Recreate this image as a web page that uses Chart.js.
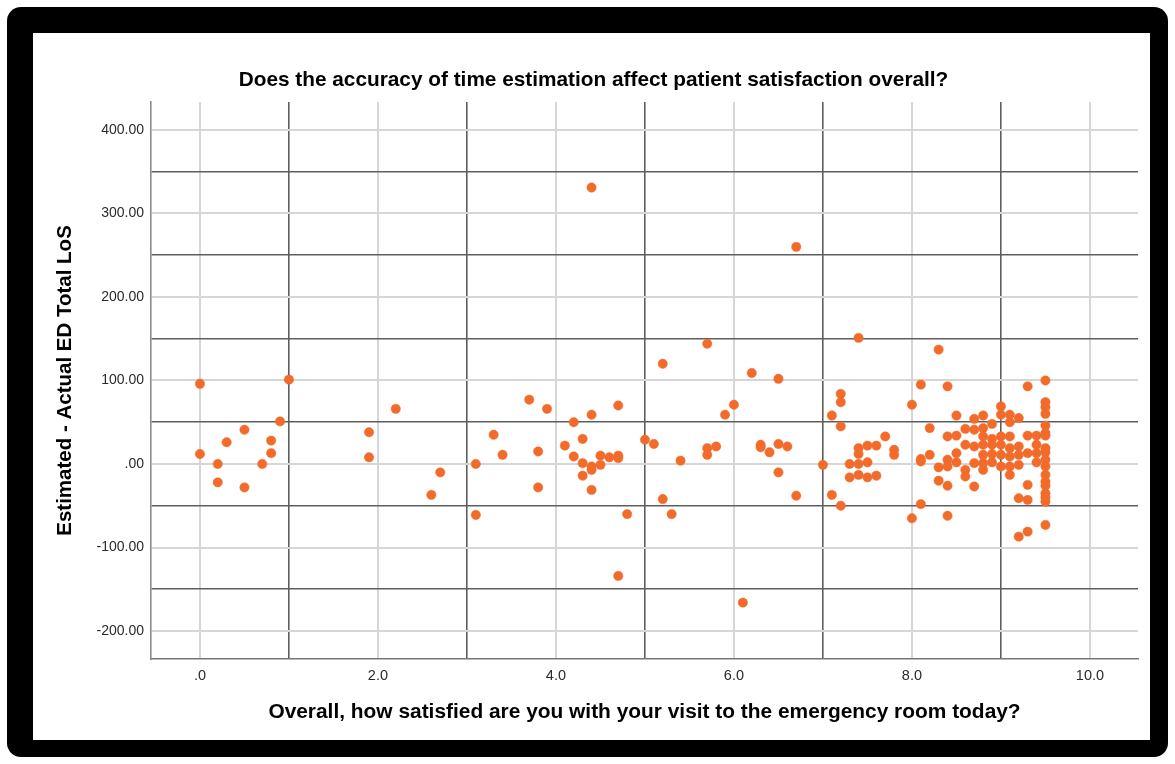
<!DOCTYPE html>
<html>
<head>
<meta charset="utf-8">
<script src="https://cdn.jsdelivr.net/npm/chart.js@4.4.1/dist/chart.umd.min.js"></script>
<style>
  html, body { margin: 0; padding: 0; background: #fff; }
  body { width: 1175px; height: 764px; position: relative; overflow: hidden; }
  .frame { position: absolute; left: 7px; top: 7px; width: 1161px; height: 750px; background: #000; border-radius: 14px; }
  .panel { position: absolute; left: 33px; top: 33px; width: 1117px; height: 707px; background: #fff; }
</style>
</head>
<body>
<div class="frame"></div>
<div class="panel"><canvas id="chart"></canvas></div>
<script>
// satisfaction score (x) and the LoS differences seen at each score (y)
const satisfactionLevels = [
  0, 0.2, 0.3, 0.5, 0.7, 0.8, 0.9, 1.0,
  1.9, 2.2, 2.6, 2.7, 3.1, 3.3, 3.4,
  3.7, 3.8, 3.9, 4.1, 4.2, 4.3, 4.4, 4.5, 4.6, 4.7, 4.8,
  5.0, 5.1, 5.2, 5.3, 5.4, 5.7, 5.8, 5.9,
  6.0, 6.1, 6.2, 6.3, 6.4, 6.5, 6.6, 6.7,
  7.0, 7.1, 7.2, 7.3, 7.4, 7.5, 7.6, 7.7, 7.8,
  8.0, 8.1, 8.2, 8.3, 8.4, 8.5, 8.6, 8.7, 8.8, 8.9,
  9.0, 9.1, 9.2, 9.3, 9.4, 9.5
];
const losDiffByLevel = [
  [96, 12], [0, -22], [26], [41, -28], [0], [28, 13], [51], [101],
  [38, 8], [66], [-37], [-10], [0, -61], [35], [11],
  [77], [15, -28], [66], [22], [50, 9], [30, 1, -14], [331, 59, -3, -7, -31], [10, -1], [8], [70, 10, 7, -134], [-60],
  [29], [24], [120, -42], [-60], [4], [144, 19, 11], [21], [59],
  [71], [-166], [109], [23, 20], [14], [102, 24, -10], [21], [260, -38],
  [-1], [58, -37], [84, 74, 45, -50], [0, -16], [151, 19, 12, 0, -13], [22, 2, -16], [22, -14], [33], [17, 11],
  [71, -65], [95, 6, 3, -48], [43, 11], [137, -4, -20], [93, 33, 5, -3, -26, -62], [58, 34, 13, 2],
  [42, 23, -7, -15], [54, 41, 21, 1, -27], [58, 43, 33, 23, 11, 1, -7], [48, 30, 23, 12, 2],
  [69, 59, 33, 23, 11, -3], [59, 50, 33, 19, 9, -3, -13], [55, 21, 11, -1, -41, -87],
  [93, 34, 13, -25, -43, -81], [34, 23, 13, 2],
  [100, 74, 68, 60, 46, 37, 34, 19, 14, 5, -3, -13, -21, -26, -35, -40, -45, -73]
];

const xTickValues = [0, 1, 2, 3, 4, 5, 6, 7, 8, 9, 10];
const xTickLabels = ['.0', '', '2.0', '', '4.0', '', '6.0', '', '8.0', '', '10.0'];
const yTickValues = [-200, -150, -100, -50, 0, 50, 100, 150, 200, 250, 300, 350, 400];
const yTickLabels = ['-200.00', '', '-100.00', '', '.00', '', '100.00', '', '200.00', '', '300.00', '', '400.00'];

const FONT = 'Liberation Sans, Arial, Helvetica, sans-serif';
const LIGHT = '#d6d6d6';
const DARK = '#5e5e5e';

const points = [];
satisfactionLevels.forEach((x, i) => {
  losDiffByLevel[i].forEach(y => points.push({ x, y }));
});

// labelled ticks get light lines, the in-between ones get dark lines
const gridColor = labels => ctx => (ctx.tick && labels[ctx.index] === '' ? DARK : LIGHT);
const gridWidth = labels => ctx => (ctx.tick && labels[ctx.index] === '' ? 1.6 : 2);

new Chart(document.getElementById('chart').getContext('2d'), {
  type: 'scatter',
  data: {
    datasets: [{
      data: points,
      backgroundColor: '#F26B2B',
      borderColor: 'rgba(242,107,43,0.45)',
      borderWidth: 1,
      pointRadius: 4.7,
      pointHoverRadius: 4.7
    }]
  },
  options: {
    responsive: true,
    maintainAspectRatio: false,
    animation: false,
    layout: { padding: { left: 4, right: 0, top: 0, bottom: 0 } },
    plugins: {
      legend: { display: false },
      tooltip: { enabled: false },
      title: {
        display: true,
        text: 'Does the accuracy of time estimation affect patient satisfaction overall?',
        color: '#000',
        font: { family: FONT, size: 20.8, weight: 'bold' },
        padding: { top: 35, bottom: 9 }
      }
    },
    scales: {
      x: {
        type: 'linear',
        min: -0.55,
        max: 10.54,
        afterBuildTicks: s => { s.ticks = xTickValues.map(v => ({ value: v })); },
        afterFit: s => { s.height = 81; },
        grid: { color: gridColor(xTickLabels), lineWidth: gridWidth(xTickLabels), drawTicks: false },
        border: { color: '#767676', width: 1.6 },
        ticks: {
          autoSkip: false,
          maxRotation: 0,
          padding: 8,
          color: '#2a2a2a',
          font: { family: FONT, size: 14.5 },
          callback: (v, i) => xTickLabels[i]
        },
        title: {
          display: true,
          text: 'Overall, how satisfied are you with your visit to the emergency room today?',
          color: '#000',
          font: { family: FONT, size: 20.9, weight: 'bold' },
          padding: { top: 0, bottom: 15 }
        }
      },
      y: {
        type: 'linear',
        min: -233.5,
        max: 433.5,
        afterBuildTicks: s => { s.ticks = yTickValues.map(v => ({ value: v })); },
        afterFit: s => { s.width = 114; },
        grid: { color: gridColor(yTickLabels), lineWidth: gridWidth(yTickLabels), drawTicks: false },
        border: { color: '#8c8c8c', width: 1.6 },
        ticks: {
          autoSkip: false,
          padding: 7,
          color: '#2a2a2a',
          font: { family: FONT, size: 14 },
          callback: (v, i) => yTickLabels[i]
        },
        title: {
          display: true,
          text: 'Estimated - Actual ED Total LoS',
          color: '#000',
          font: { family: FONT, size: 20.5, weight: 'bold' },
          padding: { top: 16, bottom: 0 }
        }
      },
      // empty right-hand box so the plot stops short of the frame
      spacer: {
        type: 'linear',
        position: 'right',
        display: true,
        afterFit: s => { s.width = 12; },
        grid: { display: false },
        border: { display: false },
        ticks: { display: false }
      }
    }
  }
});
</script>
</body>
</html>
